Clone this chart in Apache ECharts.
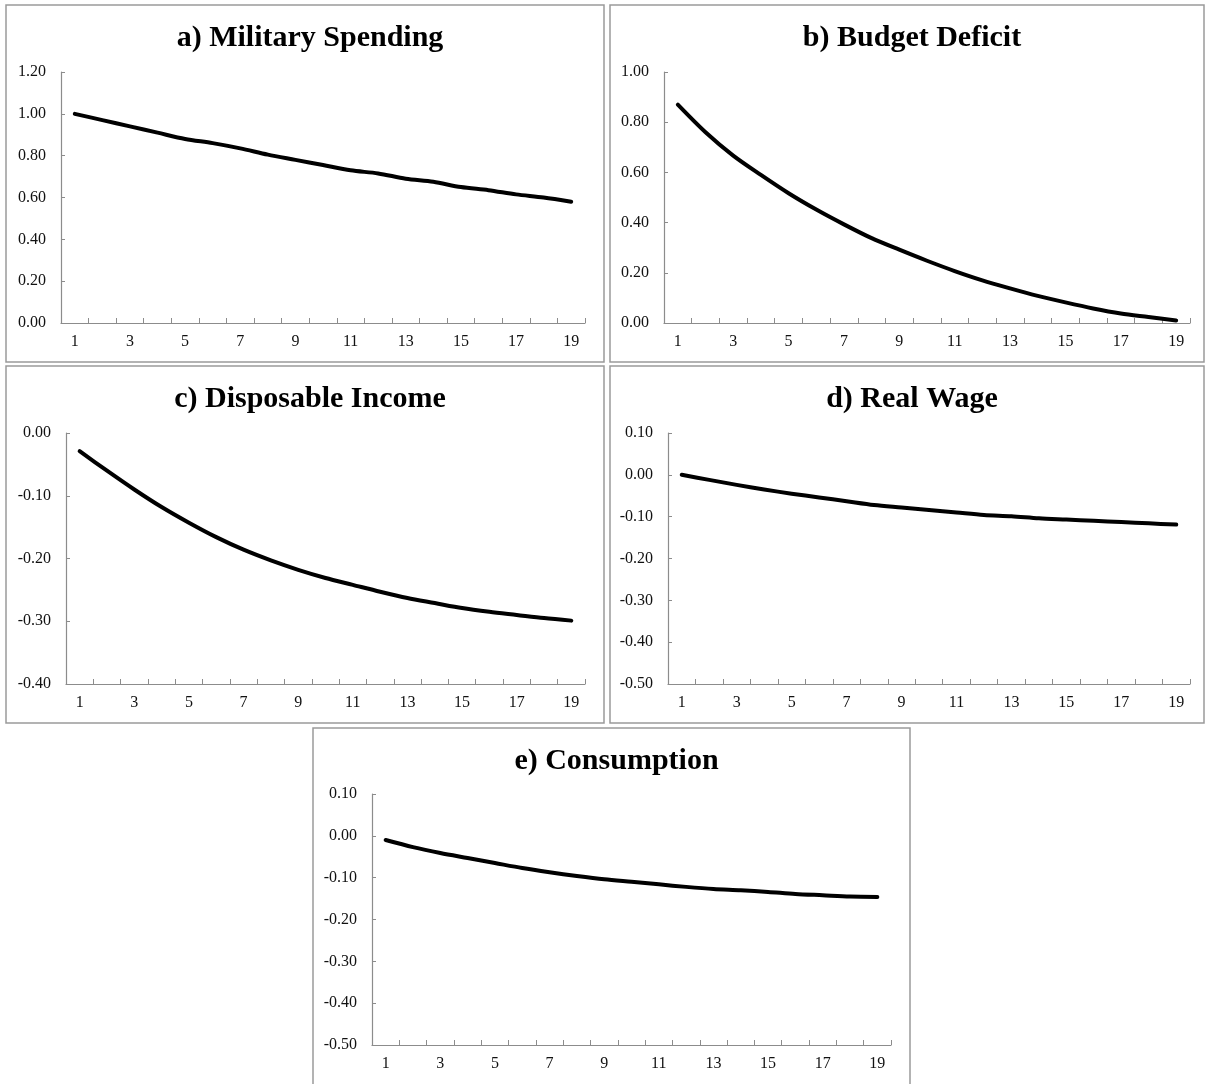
<!DOCTYPE html>
<html>
<head>
<meta charset="utf-8">
<title>Impulse responses</title>
<script src="https://cdn.jsdelivr.net/npm/echarts@6/dist/echarts.min.js"></script>
<style>
  html, body { margin: 0; padding: 0; background: #fff; }
  #chart { width: 1206px; height: 1084px; }
</style>
</head>
<body>
<div id="chart"></div>
<script>
// Periods after the shock
const periods = ['1','2','3','4','5','6','7','8','9','10','11','12','13','14','15','16','17','18','19'];

// Responses per panel
const militarySpending = [1.00, 0.97, 0.94, 0.91, 0.88, 0.86, 0.835, 0.805, 0.78, 0.755, 0.73, 0.715, 0.69, 0.675, 0.65, 0.635, 0.615, 0.60, 0.58];
const budgetDeficit    = [0.87, 0.76, 0.667, 0.59, 0.517, 0.452, 0.393, 0.338, 0.292, 0.248, 0.207, 0.17, 0.138, 0.108, 0.082, 0.058, 0.038, 0.024, 0.01];
const disposableIncome = [-0.029, -0.06, -0.09, -0.118, -0.143, -0.166, -0.186, -0.203, -0.218, -0.231, -0.242, -0.253, -0.263, -0.271, -0.279, -0.285, -0.290, -0.295, -0.299];
const realWage         = [0.000, -0.012, -0.024, -0.035, -0.045, -0.054, -0.063, -0.072, -0.078, -0.084, -0.090, -0.096, -0.099, -0.104, -0.107, -0.110, -0.113, -0.116, -0.119];
const consumption      = [-0.010, -0.027, -0.041, -0.053, -0.065, -0.077, -0.087, -0.096, -0.104, -0.110, -0.116, -0.122, -0.127, -0.130, -0.134, -0.139, -0.142, -0.145, -0.146];

const panelTitles = ['a) Military Spending', 'b) Budget Deficit', 'c) Disposable Income', 'd) Real Wage', 'e) Consumption'];
const panelSeries = [militarySpending, budgetDeficit, disposableIncome, realWage, consumption];
const yRanges = [[0, 1.2], [0, 1.0], [-0.4, 0], [-0.5, 0.1], [-0.5, 0.1]];
const yStep = [0.2, 0.2, 0.1, 0.1, 0.1];

// Layout: frame box and plot area of each panel
const frames = [
  { x: 6,   y: 5,   w: 598, h: 357 },
  { x: 610, y: 5,   w: 594, h: 357 },
  { x: 6,   y: 366, w: 598, h: 357 },
  { x: 610, y: 366, w: 594, h: 357 },
  { x: 313, y: 728, w: 597, h: 360 }
];
const plots = [
  { left: 61,  top: 72,  right: 585,  bottom: 323 },
  { left: 664, top: 72,  right: 1190, bottom: 323 },
  { left: 66,  top: 433, right: 585,  bottom: 684 },
  { left: 668, top: 433, right: 1190, bottom: 684 },
  { left: 372, top: 794, right: 891,  bottom: 1045 }
];

const serif = '"Liberation Serif", "DejaVu Serif", serif';
const axisColor = '#8c8c8c';

const chart = echarts.init(document.getElementById('chart'), null, { renderer: 'canvas' });

const option = {
  backgroundColor: '#ffffff',
  animation: false,
  title: panelTitles.map((t, i) => ({
    text: t,
    left: frames[i].x + frames[i].w / 2,
    top: frames[i].y + 13,
    textAlign: 'center',
    textStyle: { fontFamily: serif, fontSize: 30, fontWeight: 'bold', color: '#000' }
  })),
  graphic: frames.map(f => ({
    type: 'rect',
    shape: { x: f.x, y: f.y, width: f.w, height: f.h },
    style: { fill: 'none', stroke: '#9a9a9a', lineWidth: 1.5 },
    silent: true,
    z: 0
  })),
  grid: plots.map(p => ({
    left: p.left,
    top: p.top,
    width: p.right - p.left,
    height: p.bottom - p.top,
    containLabel: false
  })),
  xAxis: plots.map((p, i) => ({
    type: 'category',
    gridIndex: i,
    data: periods,
    boundaryGap: true,
    axisLine: { onZero: false, lineStyle: { color: axisColor, width: 1.2 } },
    axisTick: { show: true, inside: true, length: 5, interval: 0, lineStyle: { color: axisColor } },
    axisLabel: { interval: 1, margin: 11, fontFamily: serif, fontSize: 16, color: '#111' },
    splitLine: { show: false }
  })),
  yAxis: plots.map((p, i) => ({
    type: 'value',
    gridIndex: i,
    min: yRanges[i][0],
    max: yRanges[i][1],
    interval: yStep[i],
    axisLine: { show: true, onZero: false, lineStyle: { color: axisColor, width: 1.2 } },
    axisTick: { show: true, inside: true, length: 4, lineStyle: { color: axisColor } },
    axisLabel: {
      margin: 15,
      fontFamily: serif,
      fontSize: 16,
      color: '#111',
      formatter: v => v.toFixed(2)
    },
    splitLine: { show: false }
  })),
  series: panelSeries.map((d, i) => ({
    type: 'line',
    xAxisIndex: i,
    yAxisIndex: i,
    data: d,
    smooth: 0.3,
    symbol: 'none',
    lineStyle: { color: '#000', width: 4, cap: 'round', join: 'round' }
  }))
};

chart.setOption(option);
</script>
</body>
</html>
